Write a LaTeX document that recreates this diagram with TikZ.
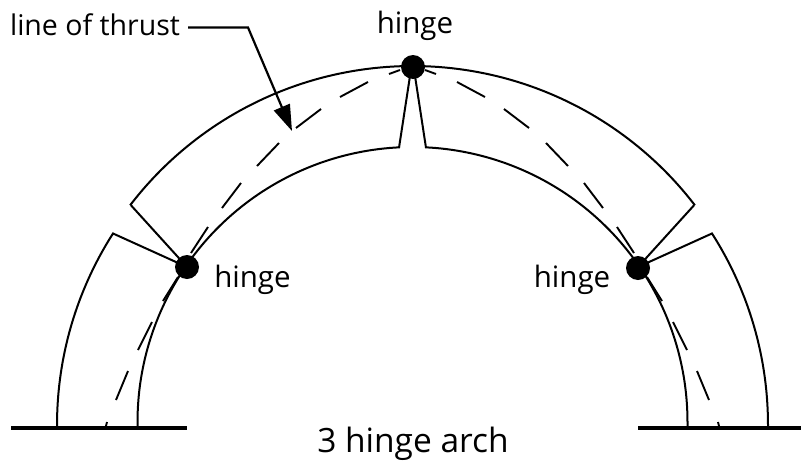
\documentclass[tikz,border=0pt]{standalone}
\usepackage{fontspec}
\setmainfont{Open Sans}
\usetikzlibrary{arrows.meta}
\tikzset{
  x=1pt,y=-1pt,
  archline/.style={line width=2pt,line join=miter,black},
  thrust/.style={line width=1.9pt,black},
  ground/.style={line width=4.5pt,black},
  hingedot/.style={circle,fill=black,inner sep=0pt,minimum size=24pt},
  lbl/.style={font=\fontsize{29.5}{32}\selectfont,inner sep=0pt,anchor=base,black},
  lblline/.style={font=\fontsize{28.5}{32}\selectfont,inner sep=0pt,anchor=base,black},
  lbltitle/.style={font=\fontsize{33.5}{36}\selectfont,inner sep=0pt,anchor=base,black},
  pointer/.style={line width=2.2pt,black,-{Triangle[length=26pt,width=17pt]}}
}
\newcommand{\halfarch}{%
  % lower block
  \draw[archline] (57,428) --
    plot[domain=180:147.4,samples=40] ({412.5+355.5*cos(\x)},{425-355.5*sin(\x)})
    -- (187,267);
  \draw[archline] (137.5,428) -- (137.5,422)
    plot[domain=180:145.5,samples=40] ({412.5+275*cos(\x)},{422-275*sin(\x)});
  % upper block
  \draw[archline] (187,267) -- (131,205.3)
    plot[domain=142.5:90,samples=50] ({412.5+356*cos(\x)},{422-356*sin(\x)});
  \draw[archline]
    plot[domain=145.5:92.8,samples=50] ({412.5+275*cos(\x)},{422-275*sin(\x)})
    -- (410,76);
  % line of thrust
  \foreach \a/\b/\c/\d in {
    107/422/105.5/428, 128/371/116/400, 152/322/138/350, 178/277/163/301,
    208/227/191/253, 241/183/222/208, 279/143/257/166, 321/109/296/128,
    368/82/340/97, 400/70/389/74}
    \draw[thrust] (\a,\b) -- (\c,\d);
}
\begin{document}
\begin{tikzpicture}
  \useasboundingbox (0,0) rectangle (801,461);
  \fill[white] (0,0) rectangle (801,461);
  \begin{scope}\halfarch\end{scope}
  \begin{scope}[xshift=825pt,xscale=-1]\halfarch\end{scope}
  \coordinate (gla) at (11,428);
  \coordinate (glb) at (187,428);
  \coordinate (gra) at (638,428);
  \coordinate (grb) at (801,428);
  \draw[ground] (gla) -- (glb);
  \draw[ground] (gra) -- (grb);
  \node[hingedot] (hL) at (187,267) {};
  \node[hingedot] (hT) at (413,67) {};
  \node[hingedot] (hR) at (638,268) {};
  \node[lbl] (tT) at (415,33) {hinge};
  \node[lbl] (tL) at (252.5,287) {hinge};
  \node[lbl] (tR) at (572,287) {hinge};
  \node[lblline] (tLine) at (95,35) {line of thrust};
  \node[lbltitle] (tTitle) at (413,452) {3 hinge arch};
  \coordinate (pa) at (188,27.5);
  \coordinate (pb) at (248,27.5);
  \coordinate (pc) at (292,131);
  \draw[pointer] (pa) -- (pb) -- (pc);
\end{tikzpicture}
\end{document}
